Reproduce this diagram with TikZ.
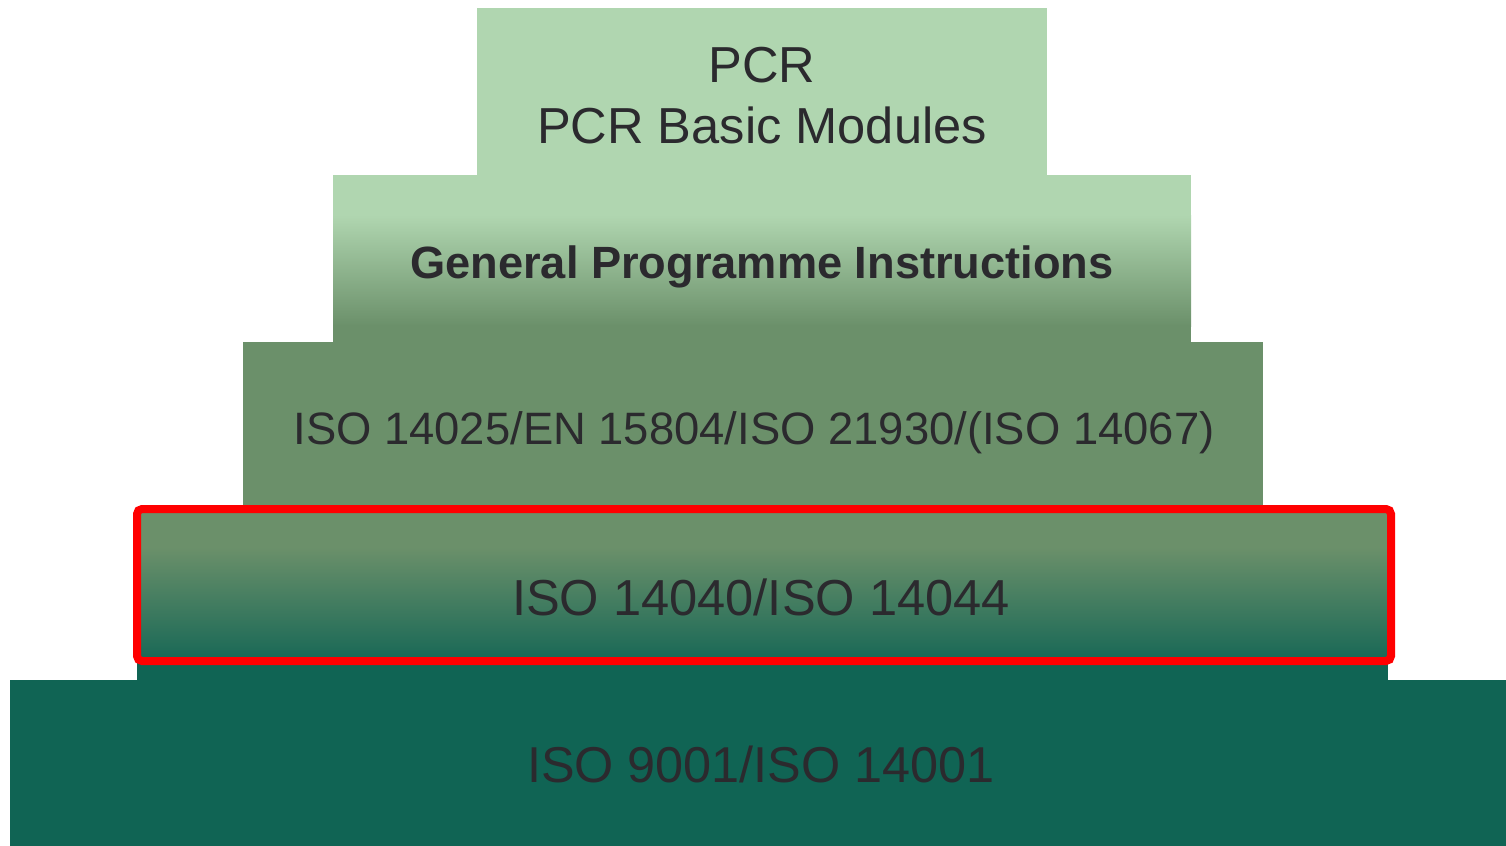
\documentclass[tikz,border=0pt]{standalone}
\usepackage{fontspec}
\setmainfont{Liberation Sans}
\definecolor{tierlight}{HTML}{B0D6B0}
\definecolor{tiermid}{HTML}{6B906A}
\definecolor{tierdark}{HTML}{106454}
\definecolor{labelink}{HTML}{2B2A2E}
\tikzset{
  tierlabel/.style={anchor=base, inner sep=0pt, text=labelink},
  highlight/.style={draw=red, line width=4pt, rounded corners=2.5pt}
}
\begin{document}
\begin{tikzpicture}[x=0.5pt, y=-0.5pt]
  \useasboundingbox (0,0) rectangle (1506,846);

  % level 1: PCR
  \fill[tierlight] (477,8) rectangle (1047,176);

  % level 2: programme instructions (light to mid gradient)
  \fill[tierlight] (333,175) rectangle (1191,216);
  \shade[top color=tierlight, bottom color=tiermid] (333,215) rectangle (1191,326);
  \fill[tiermid] (333,325) rectangle (1191,343);

  % level 3: ISO 14025 group
  \fill[tiermid] (243,342) rectangle (1263,510);

  % level 4: ISO 14040/14044 (mid to dark gradient)
  \fill[tiermid] (137,508) rectangle (1388,548);
  \shade[top color=tiermid, bottom color=tierdark!92!tiermid] (137,547) rectangle (1388,662);
  \fill[tierdark] (137,661) rectangle (1388,681);

  % level 5: base
  \fill[tierdark] (10,680) rectangle (1506,846);

  % highlight frame round level 4
  \draw[highlight] (137,509) rectangle (1391,661);

  % labels
  \node[tierlabel, font=\fontsize{25.3}{30}\selectfont] (pcr) at (762,82) {PCR};
  \node[tierlabel, font=\fontsize{25.3}{30}\selectfont] (pcrbasic) at (762,143) {PCR Basic Modules};
  \node[tierlabel, font=\fontsize{22.6}{27}\selectfont\bfseries] (gpi) at (762,278) {General Programme Instructions};
  \node[tierlabel, font=\fontsize{22.7}{27}\selectfont] (iso14025) at (754,444) {ISO 14025/EN 15804/ISO 21930/(ISO 14067)};
  \node[tierlabel, font=\fontsize{25.3}{30}\selectfont] (iso14040) at (761,615) {ISO 14040/ISO 14044};
  \node[tierlabel, font=\fontsize{25.2}{30}\selectfont] (iso9001) at (761,782) {ISO 9001/ISO 14001};
\end{tikzpicture}
\end{document}
